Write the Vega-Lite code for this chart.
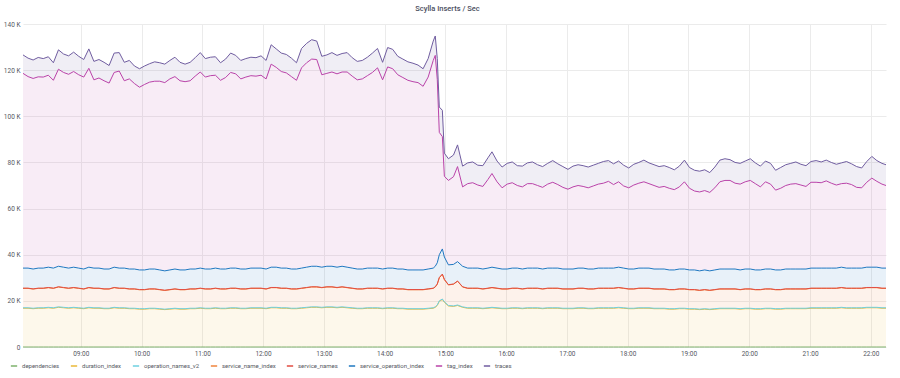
{
"$schema": "https://vega.github.io/schema/vega-lite/v6.json",
"width": 863, "height": 323,
"autosize": {"type": "none"},
"padding": {"left": 23, "top": 24, "right": 14, "bottom": 31},
"background": "#ffffff",
"title": {"text": "Scylla Inserts / Sec", "fontSize": 7.5, "fontWeight": 500, "color": "#4a4d5e", "anchor": "middle", "frame": "group", "offset": 9, "dx": -7, "font": "Roboto"},
"data": {"values": [
{"t":"2019-06-04T08:03","dependencies":0,"duration_index":16.8,"operation_names_v2":0.2,"service_name_index":8.4,"service_names":0.1,"service_operation_index":8.7,"tag_index":84.4,"traces":8.0},
{"t":"2019-06-04T08:08","dependencies":0,"duration_index":16.8,"operation_names_v2":0.2,"service_name_index":8.4,"service_names":0.1,"service_operation_index":8.7,"tag_index":83.0,"traces":8.0},
{"t":"2019-06-04T08:13","dependencies":0,"duration_index":16.6,"operation_names_v2":0.2,"service_name_index":8.3,"service_names":0.1,"service_operation_index":8.6,"tag_index":82.6,"traces":8.0},
{"t":"2019-06-04T08:18","dependencies":0,"duration_index":16.8,"operation_names_v2":0.2,"service_name_index":8.4,"service_names":0.1,"service_operation_index":8.7,"tag_index":82.9,"traces":8.4},
{"t":"2019-06-04T08:23","dependencies":0,"duration_index":16.8,"operation_names_v2":0.2,"service_name_index":8.4,"service_names":0.1,"service_operation_index":8.7,"tag_index":82.8,"traces":8.0},
{"t":"2019-06-04T08:28","dependencies":0,"duration_index":17.0,"operation_names_v2":0.2,"service_name_index":8.5,"service_names":0.1,"service_operation_index":8.8,"tag_index":83.2,"traces":8.0},
{"t":"2019-06-04T08:33","dependencies":0,"duration_index":16.8,"operation_names_v2":0.2,"service_name_index":8.4,"service_names":0.1,"service_operation_index":8.7,"tag_index":81.4,"traces":7.6},
{"t":"2019-06-04T08:38","dependencies":0,"duration_index":17.2,"operation_names_v2":0.2,"service_name_index":8.6,"service_names":0.1,"service_operation_index":8.9,"tag_index":85.4,"traces":8.4},
{"t":"2019-06-04T08:43","dependencies":0,"duration_index":17.0,"operation_names_v2":0.2,"service_name_index":8.5,"service_names":0.1,"service_operation_index":8.8,"tag_index":84.4,"traces":8.0},
{"t":"2019-06-04T08:48","dependencies":0,"duration_index":16.8,"operation_names_v2":0.2,"service_name_index":8.4,"service_names":0.1,"service_operation_index":8.7,"tag_index":84.0,"traces":8.0},
{"t":"2019-06-04T08:53","dependencies":0,"duration_index":17.0,"operation_names_v2":0.2,"service_name_index":8.5,"service_names":0.1,"service_operation_index":8.8,"tag_index":84.8,"traces":8.4},
{"t":"2019-06-04T08:58","dependencies":0,"duration_index":16.8,"operation_names_v2":0.2,"service_name_index":8.4,"service_names":0.1,"service_operation_index":8.7,"tag_index":83.8,"traces":8.0},
{"t":"2019-06-04T09:03","dependencies":0,"duration_index":16.6,"operation_names_v2":0.2,"service_name_index":8.3,"service_names":0.1,"service_operation_index":8.6,"tag_index":83.2,"traces":7.6},
{"t":"2019-06-04T09:08","dependencies":0,"duration_index":17.0,"operation_names_v2":0.2,"service_name_index":8.5,"service_names":0.1,"service_operation_index":8.8,"tag_index":86.2,"traces":8.4},
{"t":"2019-06-04T09:13","dependencies":0,"duration_index":16.8,"operation_names_v2":0.2,"service_name_index":8.4,"service_names":0.1,"service_operation_index":8.7,"tag_index":81.6,"traces":8.0},
{"t":"2019-06-04T09:18","dependencies":0,"duration_index":16.8,"operation_names_v2":0.2,"service_name_index":8.4,"service_names":0.1,"service_operation_index":8.7,"tag_index":82.4,"traces":8.0},
{"t":"2019-06-04T09:23","dependencies":0,"duration_index":16.6,"operation_names_v2":0.2,"service_name_index":8.3,"service_names":0.1,"service_operation_index":8.6,"tag_index":81.6,"traces":8.0},
{"t":"2019-06-04T09:28","dependencies":0,"duration_index":16.6,"operation_names_v2":0.2,"service_name_index":8.3,"service_names":0.1,"service_operation_index":8.6,"tag_index":80.6,"traces":7.6},
{"t":"2019-06-04T09:33","dependencies":0,"duration_index":17.0,"operation_names_v2":0.2,"service_name_index":8.5,"service_names":0.1,"service_operation_index":8.8,"tag_index":84.4,"traces":8.4},
{"t":"2019-06-04T09:38","dependencies":0,"duration_index":16.8,"operation_names_v2":0.2,"service_name_index":8.4,"service_names":0.1,"service_operation_index":8.7,"tag_index":85.4,"traces":8.0},
{"t":"2019-06-04T09:43","dependencies":0,"duration_index":16.8,"operation_names_v2":0.2,"service_name_index":8.4,"service_names":0.1,"service_operation_index":8.7,"tag_index":81.2,"traces":8.0},
{"t":"2019-06-04T09:48","dependencies":0,"duration_index":16.6,"operation_names_v2":0.2,"service_name_index":8.3,"service_names":0.1,"service_operation_index":8.6,"tag_index":82.4,"traces":8.0},
{"t":"2019-06-04T09:53","dependencies":0,"duration_index":16.6,"operation_names_v2":0.2,"service_name_index":8.3,"service_names":0.1,"service_operation_index":8.6,"tag_index":80.4,"traces":7.6},
{"t":"2019-06-04T09:58","dependencies":0,"duration_index":16.4,"operation_names_v2":0.2,"service_name_index":8.2,"service_names":0.1,"service_operation_index":8.5,"tag_index":79.2,"traces":8.0},
{"t":"2019-06-04T10:03","dependencies":0,"duration_index":16.4,"operation_names_v2":0.2,"service_name_index":8.2,"service_names":0.1,"service_operation_index":8.5,"tag_index":80.4,"traces":8.0},
{"t":"2019-06-04T10:08","dependencies":0,"duration_index":16.6,"operation_names_v2":0.2,"service_name_index":8.3,"service_names":0.1,"service_operation_index":8.6,"tag_index":81.0,"traces":8.0},
{"t":"2019-06-04T10:13","dependencies":0,"duration_index":16.6,"operation_names_v2":0.2,"service_name_index":8.3,"service_names":0.1,"service_operation_index":8.6,"tag_index":81.4,"traces":8.4},
{"t":"2019-06-04T10:18","dependencies":0,"duration_index":16.4,"operation_names_v2":0.2,"service_name_index":8.2,"service_names":0.1,"service_operation_index":8.5,"tag_index":81.8,"traces":8.0},
{"t":"2019-06-04T10:23","dependencies":0,"duration_index":16.2,"operation_names_v2":0.2,"service_name_index":8.1,"service_names":0.1,"service_operation_index":8.4,"tag_index":81.6,"traces":8.0},
{"t":"2019-06-04T10:28","dependencies":0,"duration_index":16.4,"operation_names_v2":0.2,"service_name_index":8.2,"service_names":0.1,"service_operation_index":8.5,"tag_index":82.8,"traces":8.0},
{"t":"2019-06-04T10:33","dependencies":0,"duration_index":16.6,"operation_names_v2":0.2,"service_name_index":8.3,"service_names":0.1,"service_operation_index":8.6,"tag_index":83.4,"traces":8.4},
{"t":"2019-06-04T10:38","dependencies":0,"duration_index":16.4,"operation_names_v2":0.2,"service_name_index":8.2,"service_names":0.1,"service_operation_index":8.5,"tag_index":82.0,"traces":8.0},
{"t":"2019-06-04T10:43","dependencies":0,"duration_index":16.4,"operation_names_v2":0.2,"service_name_index":8.2,"service_names":0.1,"service_operation_index":8.5,"tag_index":81.6,"traces":7.6},
{"t":"2019-06-04T10:48","dependencies":0,"duration_index":16.6,"operation_names_v2":0.2,"service_name_index":8.3,"service_names":0.1,"service_operation_index":8.6,"tag_index":81.6,"traces":8.0},
{"t":"2019-06-04T10:53","dependencies":0,"duration_index":16.6,"operation_names_v2":0.2,"service_name_index":8.3,"service_names":0.1,"service_operation_index":8.6,"tag_index":83.6,"traces":8.0},
{"t":"2019-06-04T10:58","dependencies":0,"duration_index":16.8,"operation_names_v2":0.2,"service_name_index":8.4,"service_names":0.1,"service_operation_index":8.7,"tag_index":85.0,"traces":8.4},
{"t":"2019-06-04T11:03","dependencies":0,"duration_index":16.6,"operation_names_v2":0.2,"service_name_index":8.3,"service_names":0.1,"service_operation_index":8.6,"tag_index":83.2,"traces":8.0},
{"t":"2019-06-04T11:08","dependencies":0,"duration_index":16.6,"operation_names_v2":0.2,"service_name_index":8.3,"service_names":0.1,"service_operation_index":8.6,"tag_index":83.8,"traces":8.0},
{"t":"2019-06-04T11:13","dependencies":0,"duration_index":16.8,"operation_names_v2":0.2,"service_name_index":8.4,"service_names":0.1,"service_operation_index":8.7,"tag_index":83.6,"traces":8.0},
{"t":"2019-06-04T11:18","dependencies":0,"duration_index":16.6,"operation_names_v2":0.2,"service_name_index":8.3,"service_names":0.1,"service_operation_index":8.6,"tag_index":81.8,"traces":7.6},
{"t":"2019-06-04T11:23","dependencies":0,"duration_index":16.6,"operation_names_v2":0.2,"service_name_index":8.3,"service_names":0.1,"service_operation_index":8.6,"tag_index":83.0,"traces":8.0},
{"t":"2019-06-04T11:28","dependencies":0,"duration_index":16.8,"operation_names_v2":0.2,"service_name_index":8.4,"service_names":0.1,"service_operation_index":8.7,"tag_index":84.8,"traces":8.4},
{"t":"2019-06-04T11:33","dependencies":0,"duration_index":16.8,"operation_names_v2":0.2,"service_name_index":8.4,"service_names":0.1,"service_operation_index":8.7,"tag_index":84.2,"traces":8.0},
{"t":"2019-06-04T11:38","dependencies":0,"duration_index":16.6,"operation_names_v2":0.2,"service_name_index":8.3,"service_names":0.1,"service_operation_index":8.6,"tag_index":82.4,"traces":8.0},
{"t":"2019-06-04T11:43","dependencies":0,"duration_index":16.6,"operation_names_v2":0.2,"service_name_index":8.3,"service_names":0.1,"service_operation_index":8.6,"tag_index":83.2,"traces":8.0},
{"t":"2019-06-04T11:48","dependencies":0,"duration_index":16.8,"operation_names_v2":0.2,"service_name_index":8.4,"service_names":0.1,"service_operation_index":8.7,"tag_index":83.4,"traces":8.0},
{"t":"2019-06-04T11:53","dependencies":0,"duration_index":16.8,"operation_names_v2":0.2,"service_name_index":8.4,"service_names":0.1,"service_operation_index":8.7,"tag_index":83.2,"traces":8.0},
{"t":"2019-06-04T11:58","dependencies":0,"duration_index":16.8,"operation_names_v2":0.2,"service_name_index":8.4,"service_names":0.1,"service_operation_index":8.7,"tag_index":83.6,"traces":8.4},
{"t":"2019-06-04T12:03","dependencies":0,"duration_index":16.6,"operation_names_v2":0.2,"service_name_index":8.3,"service_names":0.1,"service_operation_index":8.6,"tag_index":82.4,"traces":8.0},
{"t":"2019-06-04T12:08","dependencies":0,"duration_index":17.0,"operation_names_v2":0.2,"service_name_index":8.5,"service_names":0.1,"service_operation_index":8.8,"tag_index":88.0,"traces":8.4},
{"t":"2019-06-04T12:13","dependencies":0,"duration_index":17.0,"operation_names_v2":0.2,"service_name_index":8.5,"service_names":0.1,"service_operation_index":8.8,"tag_index":86.6,"traces":8.0},
{"t":"2019-06-04T12:18","dependencies":0,"duration_index":16.8,"operation_names_v2":0.2,"service_name_index":8.4,"service_names":0.1,"service_operation_index":8.7,"tag_index":85.2,"traces":8.0},
{"t":"2019-06-04T12:23","dependencies":0,"duration_index":16.8,"operation_names_v2":0.2,"service_name_index":8.4,"service_names":0.1,"service_operation_index":8.7,"tag_index":84.6,"traces":8.0},
{"t":"2019-06-04T12:28","dependencies":0,"duration_index":16.6,"operation_names_v2":0.2,"service_name_index":8.3,"service_names":0.1,"service_operation_index":8.6,"tag_index":83.4,"traces":8.0},
{"t":"2019-06-04T12:33","dependencies":0,"duration_index":16.6,"operation_names_v2":0.2,"service_name_index":8.3,"service_names":0.1,"service_operation_index":8.6,"tag_index":81.8,"traces":7.6},
{"t":"2019-06-04T12:38","dependencies":0,"duration_index":16.8,"operation_names_v2":0.2,"service_name_index":8.4,"service_names":0.1,"service_operation_index":8.7,"tag_index":86.8,"traces":8.4},
{"t":"2019-06-04T12:43","dependencies":0,"duration_index":17.0,"operation_names_v2":0.2,"service_name_index":8.5,"service_names":0.1,"service_operation_index":8.8,"tag_index":88.6,"traces":8.4},
{"t":"2019-06-04T12:48","dependencies":0,"duration_index":17.2,"operation_names_v2":0.2,"service_name_index":8.6,"service_names":0.1,"service_operation_index":8.9,"tag_index":89.8,"traces":8.4},
{"t":"2019-06-04T12:53","dependencies":0,"duration_index":17.2,"operation_names_v2":0.2,"service_name_index":8.6,"service_names":0.1,"service_operation_index":8.9,"tag_index":89.6,"traces":8.0},
{"t":"2019-06-04T12:58","dependencies":0,"duration_index":17.0,"operation_names_v2":0.2,"service_name_index":8.5,"service_names":0.1,"service_operation_index":8.8,"tag_index":83.4,"traces":8.0},
{"t":"2019-06-04T13:03","dependencies":0,"duration_index":17.2,"operation_names_v2":0.2,"service_name_index":8.6,"service_names":0.1,"service_operation_index":8.9,"tag_index":83.6,"traces":8.0},
{"t":"2019-06-04T13:08","dependencies":0,"duration_index":17.2,"operation_names_v2":0.2,"service_name_index":8.6,"service_names":0.1,"service_operation_index":8.9,"tag_index":84.2,"traces":8.4},
{"t":"2019-06-04T13:13","dependencies":0,"duration_index":17.0,"operation_names_v2":0.2,"service_name_index":8.5,"service_names":0.1,"service_operation_index":8.8,"tag_index":83.8,"traces":8.0},
{"t":"2019-06-04T13:18","dependencies":0,"duration_index":17.2,"operation_names_v2":0.2,"service_name_index":8.6,"service_names":0.1,"service_operation_index":8.9,"tag_index":84.2,"traces":8.0},
{"t":"2019-06-04T13:23","dependencies":0,"duration_index":17.0,"operation_names_v2":0.2,"service_name_index":8.5,"service_names":0.1,"service_operation_index":8.8,"tag_index":84.6,"traces":8.4},
{"t":"2019-06-04T13:28","dependencies":0,"duration_index":16.8,"operation_names_v2":0.2,"service_name_index":8.4,"service_names":0.1,"service_operation_index":8.7,"tag_index":83.2,"traces":8.0},
{"t":"2019-06-04T13:33","dependencies":0,"duration_index":16.6,"operation_names_v2":0.2,"service_name_index":8.3,"service_names":0.1,"service_operation_index":8.6,"tag_index":82.0,"traces":8.0},
{"t":"2019-06-04T13:38","dependencies":0,"duration_index":16.6,"operation_names_v2":0.2,"service_name_index":8.3,"service_names":0.1,"service_operation_index":8.6,"tag_index":82.4,"traces":8.0},
{"t":"2019-06-04T13:43","dependencies":0,"duration_index":16.8,"operation_names_v2":0.2,"service_name_index":8.4,"service_names":0.1,"service_operation_index":8.7,"tag_index":83.4,"traces":8.0},
{"t":"2019-06-04T13:48","dependencies":0,"duration_index":16.8,"operation_names_v2":0.2,"service_name_index":8.4,"service_names":0.1,"service_operation_index":8.7,"tag_index":84.8,"traces":8.4},
{"t":"2019-06-04T13:53","dependencies":0,"duration_index":16.8,"operation_names_v2":0.2,"service_name_index":8.4,"service_names":0.1,"service_operation_index":8.7,"tag_index":86.8,"traces":8.4},
{"t":"2019-06-04T13:58","dependencies":0,"duration_index":16.6,"operation_names_v2":0.2,"service_name_index":8.3,"service_names":0.1,"service_operation_index":8.6,"tag_index":82.0,"traces":7.6},
{"t":"2019-06-04T14:03","dependencies":0,"duration_index":16.8,"operation_names_v2":0.2,"service_name_index":8.4,"service_names":0.1,"service_operation_index":8.7,"tag_index":87.2,"traces":8.4},
{"t":"2019-06-04T14:08","dependencies":0,"duration_index":16.8,"operation_names_v2":0.2,"service_name_index":8.4,"service_names":0.1,"service_operation_index":8.7,"tag_index":86.4,"traces":8.4},
{"t":"2019-06-04T14:13","dependencies":0,"duration_index":16.6,"operation_names_v2":0.2,"service_name_index":8.3,"service_names":0.1,"service_operation_index":8.6,"tag_index":84.2,"traces":8.0},
{"t":"2019-06-04T14:18","dependencies":0,"duration_index":16.6,"operation_names_v2":0.2,"service_name_index":8.3,"service_names":0.1,"service_operation_index":8.6,"tag_index":83.0,"traces":8.0},
{"t":"2019-06-04T14:23","dependencies":0,"duration_index":16.4,"operation_names_v2":0.2,"service_name_index":8.2,"service_names":0.1,"service_operation_index":8.5,"tag_index":82.2,"traces":8.0},
{"t":"2019-06-04T14:28","dependencies":0,"duration_index":16.4,"operation_names_v2":0.2,"service_name_index":8.2,"service_names":0.1,"service_operation_index":8.5,"tag_index":81.6,"traces":8.0},
{"t":"2019-06-04T14:33","dependencies":0,"duration_index":16.4,"operation_names_v2":0.2,"service_name_index":8.2,"service_names":0.1,"service_operation_index":8.5,"tag_index":81.2,"traces":7.6},
{"t":"2019-06-04T14:38","dependencies":0,"duration_index":16.4,"operation_names_v2":0.2,"service_name_index":8.2,"service_names":0.1,"service_operation_index":8.5,"tag_index":79.6,"traces":7.6},
{"t":"2019-06-04T14:43","dependencies":0,"duration_index":16.6,"operation_names_v2":0.2,"service_name_index":8.3,"service_names":0.1,"service_operation_index":8.6,"tag_index":83.2,"traces":8.0},
{"t":"2019-06-04T14:48","dependencies":0,"duration_index":16.8,"operation_names_v2":0.2,"service_name_index":8.4,"service_names":0.1,"service_operation_index":8.7,"tag_index":90.0,"traces":8.4},
{"t":"2019-06-04T14:50","dependencies":0,"duration_index":17.2,"operation_names_v2":0.2,"service_name_index":8.6,"service_names":0.1,"service_operation_index":8.9,"tag_index":91.4,"traces":8.4},
{"t":"2019-06-04T14:52","dependencies":0,"duration_index":18.0,"operation_names_v2":0.2,"service_name_index":9.0,"service_names":0.1,"service_operation_index":9.2,"tag_index":79.5,"traces":9.0},
{"t":"2019-06-04T14:54","dependencies":0,"duration_index":19.8,"operation_names_v2":0.2,"service_name_index":10.0,"service_names":0.1,"service_operation_index":9.9,"tag_index":53.0,"traces":11.0},
{"t":"2019-06-04T14:57","dependencies":0,"duration_index":20.6,"operation_names_v2":0.2,"service_name_index":10.7,"service_names":0.1,"service_operation_index":10.9,"tag_index":48.7,"traces":11.4},
{"t":"2019-06-04T14:59","dependencies":0,"duration_index":19.4,"operation_names_v2":0.2,"service_name_index":9.6,"service_names":0.1,"service_operation_index":9.7,"tag_index":35.0,"traces":10.0},
{"t":"2019-06-04T15:03","dependencies":0,"duration_index":17.8,"operation_names_v2":0.2,"service_name_index":8.9,"service_names":0.1,"service_operation_index":8.6,"tag_index":36.6,"traces":9.4},
{"t":"2019-06-04T15:08","dependencies":0,"duration_index":17.6,"operation_names_v2":0.2,"service_name_index":9.4,"service_names":0.1,"service_operation_index":8.5,"tag_index":38.0,"traces":9.4},
{"t":"2019-06-04T15:12","dependencies":0,"duration_index":18.0,"operation_names_v2":0.2,"service_name_index":10.3,"service_names":0.1,"service_operation_index":8.4,"tag_index":41.2,"traces":9.4},
{"t":"2019-06-04T15:17","dependencies":0,"duration_index":17.2,"operation_names_v2":0.2,"service_name_index":8.6,"service_names":0.1,"service_operation_index":8.9,"tag_index":34.4,"traces":9.0},
{"t":"2019-06-04T15:22","dependencies":0,"duration_index":16.8,"operation_names_v2":0.2,"service_name_index":8.4,"service_names":0.1,"service_operation_index":8.7,"tag_index":36.6,"traces":9.0},
{"t":"2019-06-04T15:27","dependencies":0,"duration_index":16.8,"operation_names_v2":0.2,"service_name_index":8.4,"service_names":0.1,"service_operation_index":8.7,"tag_index":37.0,"traces":9.0},
{"t":"2019-06-04T15:32","dependencies":0,"duration_index":16.8,"operation_names_v2":0.2,"service_name_index":8.4,"service_names":0.1,"service_operation_index":8.7,"tag_index":36.0,"traces":8.6},
{"t":"2019-06-04T15:37","dependencies":0,"duration_index":16.6,"operation_names_v2":0.2,"service_name_index":8.3,"service_names":0.1,"service_operation_index":8.6,"tag_index":35.8,"traces":9.0},
{"t":"2019-06-04T15:42","dependencies":0,"duration_index":16.8,"operation_names_v2":0.2,"service_name_index":8.4,"service_names":0.1,"service_operation_index":8.7,"tag_index":38.4,"traces":9.4},
{"t":"2019-06-04T15:46","dependencies":0,"duration_index":17.0,"operation_names_v2":0.2,"service_name_index":8.5,"service_names":0.1,"service_operation_index":8.8,"tag_index":40.6,"traces":9.4},
{"t":"2019-06-04T15:51","dependencies":0,"duration_index":16.8,"operation_names_v2":0.2,"service_name_index":8.4,"service_names":0.1,"service_operation_index":8.7,"tag_index":37.4,"traces":9.0},
{"t":"2019-06-04T15:56","dependencies":0,"duration_index":16.6,"operation_names_v2":0.2,"service_name_index":8.3,"service_names":0.1,"service_operation_index":8.6,"tag_index":35.2,"traces":9.0},
{"t":"2019-06-04T16:01","dependencies":0,"duration_index":16.6,"operation_names_v2":0.2,"service_name_index":8.3,"service_names":0.1,"service_operation_index":8.6,"tag_index":36.8,"traces":9.0},
{"t":"2019-06-04T16:06","dependencies":0,"duration_index":16.8,"operation_names_v2":0.2,"service_name_index":8.4,"service_names":0.1,"service_operation_index":8.7,"tag_index":37.0,"traces":9.0},
{"t":"2019-06-04T16:11","dependencies":0,"duration_index":16.8,"operation_names_v2":0.2,"service_name_index":8.4,"service_names":0.1,"service_operation_index":8.7,"tag_index":35.8,"traces":8.6},
{"t":"2019-06-04T16:16","dependencies":0,"duration_index":16.6,"operation_names_v2":0.2,"service_name_index":8.3,"service_names":0.1,"service_operation_index":8.6,"tag_index":35.6,"traces":9.0},
{"t":"2019-06-04T16:21","dependencies":0,"duration_index":16.8,"operation_names_v2":0.2,"service_name_index":8.4,"service_names":0.1,"service_operation_index":8.7,"tag_index":36.6,"traces":9.0},
{"t":"2019-06-04T16:26","dependencies":0,"duration_index":16.8,"operation_names_v2":0.2,"service_name_index":8.4,"service_names":0.1,"service_operation_index":8.7,"tag_index":36.6,"traces":9.4},
{"t":"2019-06-04T16:31","dependencies":0,"duration_index":16.8,"operation_names_v2":0.2,"service_name_index":8.4,"service_names":0.1,"service_operation_index":8.7,"tag_index":35.8,"traces":9.0},
{"t":"2019-06-04T16:36","dependencies":0,"duration_index":16.6,"operation_names_v2":0.2,"service_name_index":8.3,"service_names":0.1,"service_operation_index":8.6,"tag_index":35.4,"traces":9.0},
{"t":"2019-06-04T16:41","dependencies":0,"duration_index":16.8,"operation_names_v2":0.2,"service_name_index":8.4,"service_names":0.1,"service_operation_index":8.7,"tag_index":36.4,"traces":9.0},
{"t":"2019-06-04T16:46","dependencies":0,"duration_index":16.8,"operation_names_v2":0.2,"service_name_index":8.4,"service_names":0.1,"service_operation_index":8.7,"tag_index":37.2,"traces":9.4},
{"t":"2019-06-04T16:51","dependencies":0,"duration_index":16.8,"operation_names_v2":0.2,"service_name_index":8.4,"service_names":0.1,"service_operation_index":8.7,"tag_index":36.2,"traces":9.0},
{"t":"2019-06-04T16:56","dependencies":0,"duration_index":16.6,"operation_names_v2":0.2,"service_name_index":8.3,"service_names":0.1,"service_operation_index":8.6,"tag_index":35.4,"traces":9.0},
{"t":"2019-06-04T17:01","dependencies":0,"duration_index":16.6,"operation_names_v2":0.2,"service_name_index":8.3,"service_names":0.1,"service_operation_index":8.6,"tag_index":34.6,"traces":8.6},
{"t":"2019-06-04T17:06","dependencies":0,"duration_index":16.6,"operation_names_v2":0.2,"service_name_index":8.3,"service_names":0.1,"service_operation_index":8.6,"tag_index":35.6,"traces":9.0},
{"t":"2019-06-04T17:11","dependencies":0,"duration_index":16.8,"operation_names_v2":0.2,"service_name_index":8.4,"service_names":0.1,"service_operation_index":8.7,"tag_index":35.8,"traces":9.0},
{"t":"2019-06-04T17:16","dependencies":0,"duration_index":16.8,"operation_names_v2":0.2,"service_name_index":8.4,"service_names":0.1,"service_operation_index":8.7,"tag_index":35.4,"traces":9.0},
{"t":"2019-06-04T17:21","dependencies":0,"duration_index":16.6,"operation_names_v2":0.2,"service_name_index":8.3,"service_names":0.1,"service_operation_index":8.6,"tag_index":35.2,"traces":9.0},
{"t":"2019-06-04T17:26","dependencies":0,"duration_index":16.6,"operation_names_v2":0.2,"service_name_index":8.3,"service_names":0.1,"service_operation_index":8.6,"tag_index":36.0,"traces":9.0},
{"t":"2019-06-04T17:31","dependencies":0,"duration_index":16.8,"operation_names_v2":0.2,"service_name_index":8.4,"service_names":0.1,"service_operation_index":8.7,"tag_index":36.4,"traces":9.0},
{"t":"2019-06-04T17:36","dependencies":0,"duration_index":16.8,"operation_names_v2":0.2,"service_name_index":8.4,"service_names":0.1,"service_operation_index":8.7,"tag_index":36.8,"traces":9.4},
{"t":"2019-06-04T17:41","dependencies":0,"duration_index":16.8,"operation_names_v2":0.2,"service_name_index":8.4,"service_names":0.1,"service_operation_index":8.7,"tag_index":37.6,"traces":9.0},
{"t":"2019-06-04T17:46","dependencies":0,"duration_index":16.8,"operation_names_v2":0.2,"service_name_index":8.4,"service_names":0.1,"service_operation_index":8.7,"tag_index":36.2,"traces":9.0},
{"t":"2019-06-04T17:51","dependencies":0,"duration_index":17.0,"operation_names_v2":0.2,"service_name_index":8.5,"service_names":0.1,"service_operation_index":8.8,"tag_index":37.0,"traces":9.0},
{"t":"2019-06-04T17:56","dependencies":0,"duration_index":16.8,"operation_names_v2":0.2,"service_name_index":8.4,"service_names":0.1,"service_operation_index":8.7,"tag_index":35.6,"traces":9.0},
{"t":"2019-06-04T18:01","dependencies":0,"duration_index":16.6,"operation_names_v2":0.2,"service_name_index":8.3,"service_names":0.1,"service_operation_index":8.6,"tag_index":35.2,"traces":8.6},
{"t":"2019-06-04T18:06","dependencies":0,"duration_index":16.6,"operation_names_v2":0.2,"service_name_index":8.3,"service_names":0.1,"service_operation_index":8.6,"tag_index":36.4,"traces":9.0},
{"t":"2019-06-04T18:11","dependencies":0,"duration_index":16.8,"operation_names_v2":0.2,"service_name_index":8.4,"service_names":0.1,"service_operation_index":8.7,"tag_index":36.8,"traces":9.0},
{"t":"2019-06-04T18:16","dependencies":0,"duration_index":16.8,"operation_names_v2":0.2,"service_name_index":8.4,"service_names":0.1,"service_operation_index":8.7,"tag_index":37.4,"traces":9.4},
{"t":"2019-06-04T18:21","dependencies":0,"duration_index":16.8,"operation_names_v2":0.2,"service_name_index":8.4,"service_names":0.1,"service_operation_index":8.7,"tag_index":36.6,"traces":9.0},
{"t":"2019-06-04T18:26","dependencies":0,"duration_index":16.6,"operation_names_v2":0.2,"service_name_index":8.3,"service_names":0.1,"service_operation_index":8.6,"tag_index":36.2,"traces":9.0},
{"t":"2019-06-04T18:31","dependencies":0,"duration_index":16.6,"operation_names_v2":0.2,"service_name_index":8.3,"service_names":0.1,"service_operation_index":8.6,"tag_index":35.4,"traces":9.0},
{"t":"2019-06-04T18:36","dependencies":0,"duration_index":16.6,"operation_names_v2":0.2,"service_name_index":8.3,"service_names":0.1,"service_operation_index":8.6,"tag_index":35.8,"traces":9.0},
{"t":"2019-06-04T18:41","dependencies":0,"duration_index":16.4,"operation_names_v2":0.2,"service_name_index":8.2,"service_names":0.1,"service_operation_index":8.5,"tag_index":35.4,"traces":9.0},
{"t":"2019-06-04T18:46","dependencies":0,"duration_index":16.4,"operation_names_v2":0.2,"service_name_index":8.2,"service_names":0.1,"service_operation_index":8.5,"tag_index":34.8,"traces":8.6},
{"t":"2019-06-04T18:51","dependencies":0,"duration_index":16.6,"operation_names_v2":0.2,"service_name_index":8.3,"service_names":0.1,"service_operation_index":8.6,"tag_index":35.6,"traces":9.0},
{"t":"2019-06-04T18:56","dependencies":0,"duration_index":16.6,"operation_names_v2":0.2,"service_name_index":8.3,"service_names":0.1,"service_operation_index":8.6,"tag_index":37.8,"traces":9.4},
{"t":"2019-06-04T19:01","dependencies":0,"duration_index":16.4,"operation_names_v2":0.2,"service_name_index":8.2,"service_names":0.1,"service_operation_index":8.5,"tag_index":35.4,"traces":9.0},
{"t":"2019-06-04T19:06","dependencies":0,"duration_index":16.4,"operation_names_v2":0.2,"service_name_index":8.2,"service_names":0.1,"service_operation_index":8.5,"tag_index":34.2,"traces":9.0},
{"t":"2019-06-04T19:11","dependencies":0,"duration_index":16.2,"operation_names_v2":0.2,"service_name_index":8.1,"service_names":0.1,"service_operation_index":8.4,"tag_index":34.2,"traces":9.0},
{"t":"2019-06-04T19:16","dependencies":0,"duration_index":16.4,"operation_names_v2":0.2,"service_name_index":8.2,"service_names":0.1,"service_operation_index":8.5,"tag_index":34.4,"traces":9.0},
{"t":"2019-06-04T19:21","dependencies":0,"duration_index":16.2,"operation_names_v2":0.2,"service_name_index":8.1,"service_names":0.1,"service_operation_index":8.4,"tag_index":34.0,"traces":8.6},
{"t":"2019-06-04T19:26","dependencies":0,"duration_index":16.4,"operation_names_v2":0.2,"service_name_index":8.2,"service_names":0.1,"service_operation_index":8.5,"tag_index":35.6,"traces":9.0},
{"t":"2019-06-04T19:31","dependencies":0,"duration_index":16.6,"operation_names_v2":0.2,"service_name_index":8.3,"service_names":0.1,"service_operation_index":8.6,"tag_index":37.8,"traces":9.4},
{"t":"2019-06-04T19:36","dependencies":0,"duration_index":16.6,"operation_names_v2":0.2,"service_name_index":8.3,"service_names":0.1,"service_operation_index":8.6,"tag_index":38.4,"traces":9.4},
{"t":"2019-06-04T19:41","dependencies":0,"duration_index":16.6,"operation_names_v2":0.2,"service_name_index":8.3,"service_names":0.1,"service_operation_index":8.6,"tag_index":38.4,"traces":9.0},
{"t":"2019-06-04T19:46","dependencies":0,"duration_index":16.6,"operation_names_v2":0.2,"service_name_index":8.3,"service_names":0.1,"service_operation_index":8.6,"tag_index":37.2,"traces":9.0},
{"t":"2019-06-04T19:51","dependencies":0,"duration_index":16.4,"operation_names_v2":0.2,"service_name_index":8.2,"service_names":0.1,"service_operation_index":8.5,"tag_index":37.2,"traces":9.0},
{"t":"2019-06-04T19:56","dependencies":0,"duration_index":16.6,"operation_names_v2":0.2,"service_name_index":8.3,"service_names":0.1,"service_operation_index":8.6,"tag_index":37.8,"traces":9.0},
{"t":"2019-06-04T20:01","dependencies":0,"duration_index":16.6,"operation_names_v2":0.2,"service_name_index":8.3,"service_names":0.1,"service_operation_index":8.6,"tag_index":38.4,"traces":9.4},
{"t":"2019-06-04T20:06","dependencies":0,"duration_index":16.4,"operation_names_v2":0.2,"service_name_index":8.2,"service_names":0.1,"service_operation_index":8.5,"tag_index":37.4,"traces":9.0},
{"t":"2019-06-04T20:11","dependencies":0,"duration_index":16.4,"operation_names_v2":0.2,"service_name_index":8.2,"service_names":0.1,"service_operation_index":8.5,"tag_index":36.0,"traces":9.0},
{"t":"2019-06-04T20:16","dependencies":0,"duration_index":16.6,"operation_names_v2":0.2,"service_name_index":8.3,"service_names":0.1,"service_operation_index":8.6,"tag_index":37.8,"traces":9.0},
{"t":"2019-06-04T20:21","dependencies":0,"duration_index":16.6,"operation_names_v2":0.2,"service_name_index":8.3,"service_names":0.1,"service_operation_index":8.6,"tag_index":36.8,"traces":9.0},
{"t":"2019-06-04T20:26","dependencies":0,"duration_index":16.4,"operation_names_v2":0.2,"service_name_index":8.2,"service_names":0.1,"service_operation_index":8.5,"tag_index":34.6,"traces":8.6},
{"t":"2019-06-04T20:31","dependencies":0,"duration_index":16.4,"operation_names_v2":0.2,"service_name_index":8.2,"service_names":0.1,"service_operation_index":8.5,"tag_index":35.4,"traces":9.0},
{"t":"2019-06-04T20:36","dependencies":0,"duration_index":16.6,"operation_names_v2":0.2,"service_name_index":8.3,"service_names":0.1,"service_operation_index":8.6,"tag_index":36.2,"traces":9.0},
{"t":"2019-06-04T20:41","dependencies":0,"duration_index":16.6,"operation_names_v2":0.2,"service_name_index":8.3,"service_names":0.1,"service_operation_index":8.6,"tag_index":36.8,"traces":9.0},
{"t":"2019-06-04T20:46","dependencies":0,"duration_index":16.6,"operation_names_v2":0.2,"service_name_index":8.3,"service_names":0.1,"service_operation_index":8.6,"tag_index":37.0,"traces":9.4},
{"t":"2019-06-04T20:51","dependencies":0,"duration_index":16.6,"operation_names_v2":0.2,"service_name_index":8.3,"service_names":0.1,"service_operation_index":8.6,"tag_index":36.4,"traces":9.0},
{"t":"2019-06-04T20:56","dependencies":0,"duration_index":16.6,"operation_names_v2":0.2,"service_name_index":8.3,"service_names":0.1,"service_operation_index":8.6,"tag_index":35.8,"traces":9.0},
{"t":"2019-06-04T21:01","dependencies":0,"duration_index":16.8,"operation_names_v2":0.2,"service_name_index":8.4,"service_names":0.1,"service_operation_index":8.7,"tag_index":37.2,"traces":9.0},
{"t":"2019-06-04T21:06","dependencies":0,"duration_index":16.8,"operation_names_v2":0.2,"service_name_index":8.4,"service_names":0.1,"service_operation_index":8.7,"tag_index":37.2,"traces":9.4},
{"t":"2019-06-04T21:11","dependencies":0,"duration_index":16.8,"operation_names_v2":0.2,"service_name_index":8.4,"service_names":0.1,"service_operation_index":8.7,"tag_index":37.0,"traces":9.0},
{"t":"2019-06-04T21:16","dependencies":0,"duration_index":16.8,"operation_names_v2":0.2,"service_name_index":8.4,"service_names":0.1,"service_operation_index":8.7,"tag_index":37.8,"traces":9.0},
{"t":"2019-06-04T21:21","dependencies":0,"duration_index":16.8,"operation_names_v2":0.2,"service_name_index":8.4,"service_names":0.1,"service_operation_index":8.7,"tag_index":36.8,"traces":9.0},
{"t":"2019-06-04T21:26","dependencies":0,"duration_index":16.8,"operation_names_v2":0.2,"service_name_index":8.4,"service_names":0.1,"service_operation_index":8.7,"tag_index":36.0,"traces":9.0},
{"t":"2019-06-04T21:31","dependencies":0,"duration_index":17.0,"operation_names_v2":0.2,"service_name_index":8.5,"service_names":0.1,"service_operation_index":8.8,"tag_index":36.2,"traces":9.0},
{"t":"2019-06-04T21:36","dependencies":0,"duration_index":16.8,"operation_names_v2":0.2,"service_name_index":8.4,"service_names":0.1,"service_operation_index":8.7,"tag_index":36.8,"traces":9.4},
{"t":"2019-06-04T21:41","dependencies":0,"duration_index":16.8,"operation_names_v2":0.2,"service_name_index":8.4,"service_names":0.1,"service_operation_index":8.7,"tag_index":36.2,"traces":9.0},
{"t":"2019-06-04T21:46","dependencies":0,"duration_index":16.8,"operation_names_v2":0.2,"service_name_index":8.4,"service_names":0.1,"service_operation_index":8.7,"tag_index":35.0,"traces":9.0},
{"t":"2019-06-04T21:51","dependencies":0,"duration_index":16.8,"operation_names_v2":0.2,"service_name_index":8.4,"service_names":0.1,"service_operation_index":8.7,"tag_index":34.8,"traces":8.6},
{"t":"2019-06-04T21:56","dependencies":0,"duration_index":17.0,"operation_names_v2":0.2,"service_name_index":8.5,"service_names":0.1,"service_operation_index":8.8,"tag_index":36.8,"traces":9.0},
{"t":"2019-06-04T22:01","dependencies":0,"duration_index":17.0,"operation_names_v2":0.2,"service_name_index":8.5,"service_names":0.1,"service_operation_index":8.8,"tag_index":38.6,"traces":9.4},
{"t":"2019-06-04T22:06","dependencies":0,"duration_index":17.0,"operation_names_v2":0.2,"service_name_index":8.5,"service_names":0.1,"service_operation_index":8.8,"tag_index":37.2,"traces":9.0},
{"t":"2019-06-04T22:11","dependencies":0,"duration_index":16.8,"operation_names_v2":0.2,"service_name_index":8.4,"service_names":0.1,"service_operation_index":8.7,"tag_index":36.4,"traces":9.0},
{"t":"2019-06-04T22:15","dependencies":0,"duration_index":16.8,"operation_names_v2":0.2,"service_name_index":8.4,"service_names":0.1,"service_operation_index":8.7,"tag_index":35.8,"traces":9.0}
]},
"transform": [{"fold": ["dependencies","duration_index","operation_names_v2","service_name_index","service_names","service_operation_index","tag_index","traces"], "as": ["series","value"]}],
"mark": {"type": "area", "fillOpacity": 0.1, "line": {"strokeWidth": 1}},
"encoding": {
  "x": {"field": "t", "type": "temporal", "scale": {"nice": false},
        "axis": {"title": null, "format": "%H:%M", "tickCount": 14, "grid": true, "gridColor": "#ebebeb", "domain": false, "ticks": false, "labelFontSize": 6.5, "labelColor": "#55585f", "labelPadding": 3}},
  "y": {"field": "value", "type": "quantitative", "stack": "zero", "scale": {"domain": [0, 140], "nice": false},
        "axis": {"title": null, "values": [0,20,40,60,80,100,120,140], "labelExpr": "datum.value == 0 ? '0' : datum.value + ' K'", "grid": true, "gridColor": "#ebebeb", "domain": false, "ticks": false, "labelFontSize": 6.5, "labelColor": "#55585f", "labelPadding": 3}},
  "color": {"field": "series", "type": "nominal",
        "scale": {"domain": ["dependencies","duration_index","operation_names_v2","service_name_index","service_names","service_operation_index","tag_index","traces"],
                  "range": ["#7EB26D","#EAB839","#6ED0E0","#EF843C","#E24D42","#1F78C1","#BA43A9","#705DA0"]},
        "legend": {"orient": "none", "legendX": -13, "legendY": 338, "direction": "horizontal", "columns": 8, "title": null, "symbolType": "stroke", "symbolStrokeWidth": 1.5, "symbolSize": 40, "labelFontSize": 6, "labelColor": "#55585f", "columnPadding": 7, "labelOffset": 4,
                   "encode": {"symbols": {"update": {"stroke": {"scale": "color", "field": "value"}, "strokeOpacity": {"value": 1}}}}}},
  "order": {"field": "series", "sort": "ascending"}
},
"config": {"view": {"stroke": null}, "font": "Roboto"}
}
